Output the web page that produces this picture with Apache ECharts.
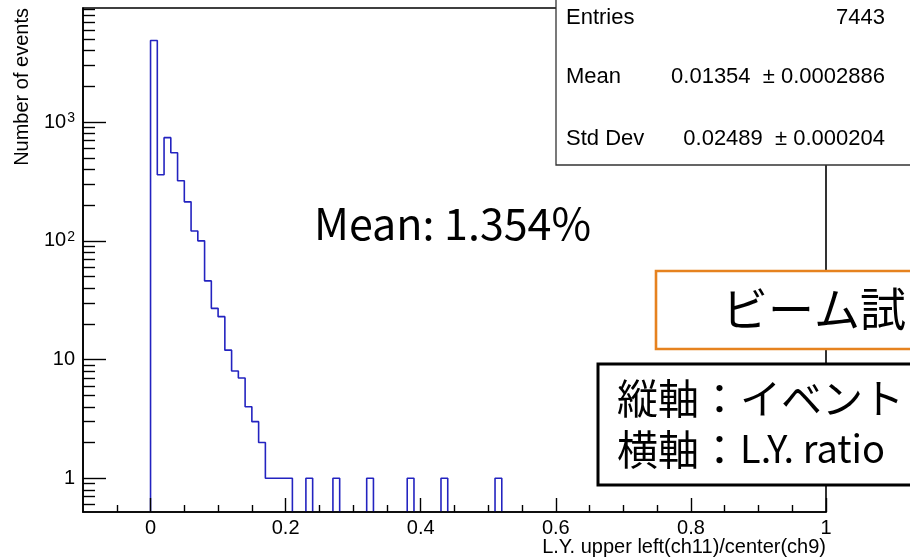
<!DOCTYPE html>
<html>
<head>
<meta charset="utf-8">
<script src="https://cdn.jsdelivr.net/npm/echarts@6/dist/echarts.min.js"></script>
<style>
  html, body { margin: 0; padding: 0; background: #fff; }
  #main { width: 910px; height: 557px; }
</style>
</head>
<body>
<div id="main"></div>
<script>
// L.Y. ratio histogram: upper left (ch11) / center (ch9), 0.01 wide bins, log scale counts
const binWidth = 0.01;
const binLow = [0.00, 0.01, 0.02, 0.03, 0.04, 0.05, 0.06, 0.07, 0.08, 0.09,
                0.10, 0.11, 0.12, 0.13, 0.14, 0.15, 0.16, 0.17, 0.18, 0.19,
                0.20, 0.23, 0.27, 0.32, 0.38, 0.43, 0.51];
const binCount = [4875, 360, 740, 553, 321, 213, 121, 100, 46, 27,
                  23, 12, 8, 7, 4, 3, 2, 1, 1, 1,
                  1, 1, 1, 1, 1, 1, 1];

// axis ranges and tick positions
const xRange = [-0.1, 1.0];
const yRange = [0.52, 9150];
const xMajorTicks = [0, 0.2, 0.4, 0.6, 0.8, 1];
const xMinorTicks = [-0.05, 0.05, 0.1, 0.15, 0.25, 0.3, 0.35, 0.45, 0.5, 0.55,
                     0.65, 0.7, 0.75, 0.85, 0.9, 0.95];
const yMajorTicks = [1, 10, 100, 1000];
const yMinorTicks = [0.6, 0.7, 0.8, 0.9, 2, 3, 4, 5, 6, 7, 8, 9,
                     20, 30, 40, 50, 60, 70, 80, 90,
                     200, 300, 400, 500, 600, 700, 800, 900,
                     2000, 3000, 4000, 5000, 6000, 7000, 8000, 9000];

// texts
const xTitle = 'L.Y. upper left(ch11)/center(ch9)';
const yTitle = 'Number of events';
const statsRows = [
  ['Entries', '7443'],
  ['Mean', '0.01354  ± 0.0002886'],
  ['Std Dev', '0.02489  ± 0.000204']
];
const meanNote = 'Mean: 1.354%';
const beamNote = 'ビーム試';
const axisNote = [['縦軸：', 'イベント', false], ['横軸：', 'L.Y. ratio', true]];

const ROOT_FONT = '"Liberation Sans", Arial, sans-serif';
const SLIDE_FONT = '"Noto Sans CJK JP", "Noto Sans", sans-serif';
const LINE_BLUE = '#2323c0';

// Split the bins into contiguous runs; each run becomes one step outline
function buildRuns() {
  const runs = [];
  let cur = null;
  let prevHi = null;
  for (let i = 0; i < binLow.length; i++) {
    const lo = binLow[i];
    const hi = lo + binWidth;
    const c = binCount[i];
    if (cur === null || Math.abs(lo - prevHi) > 1e-9) {
      if (cur) { cur.push([prevHi, yRange[0]]); runs.push(cur); }
      cur = [[lo, yRange[0]]];
    }
    cur.push([lo, c]);
    cur.push([hi, c]);
    prevHi = hi;
  }
  if (cur) { cur.push([prevHi, yRange[0]]); runs.push(cur); }
  return runs;
}

const runs = buildRuns();
const series = runs.map(pts => ({
  type: 'line',
  data: pts,
  xAxisIndex: 0,
  yAxisIndex: 0,
  symbol: 'none',
  silent: true,
  animation: false,
  lineStyle: { color: LINE_BLUE, width: 1.6 },
  z: 2
}));

const tickStyle = { color: '#000', width: 1.4 };

function yLabel(v) {
  if (Math.abs(v - 1) < 1e-9) return '1';
  if (Math.abs(v - 10) < 1e-9) return '10';
  return '10{sup|' + Math.round(Math.log10(v)) + '}';
}

const chart = echarts.init(document.getElementById('main'), null, { renderer: 'canvas' });

const graphics = [];
// y axis title, reading bottom to top, ending at the top of the frame
graphics.push({
  type: 'text', x: 22, y: 8, rotation: Math.PI / 2, z: 50,
  style: { text: yTitle, font: '20px ' + ROOT_FONT, fill: '#000',
           textAlign: 'right', textVerticalAlign: 'middle' }
});
// x axis title, right aligned with the frame
graphics.push({
  type: 'text', x: 826, y: 547, z: 50,
  style: { text: xTitle, font: '20px ' + ROOT_FONT, fill: '#000',
           textAlign: 'right', textVerticalAlign: 'middle' }
});

// statistics box
graphics.push({
  type: 'rect', z: 60,
  shape: { x: 556, y: -3, width: 380, height: 168 },
  style: { fill: '#fff', stroke: '#333', lineWidth: 1.3 }
});
const statY = [17.5, 76.5, 139];
statsRows.forEach((row, i) => {
  graphics.push({
    type: 'text', x: 566, y: statY[i], z: 61,
    style: { text: row[0], font: '22px ' + ROOT_FONT, fill: '#000',
             textAlign: 'left', textVerticalAlign: 'middle' }
  });
  graphics.push({
    type: 'text', x: 885, y: statY[i], z: 61,
    style: { text: row[1], font: '22px ' + ROOT_FONT, fill: '#000',
             textAlign: 'right', textVerticalAlign: 'middle' }
  });
});

// slide annotations
graphics.push({
  type: 'text', x: 314, y: 224, z: 50,
  style: { text: meanNote, font: '43px ' + SLIDE_FONT, fill: '#000',
           textAlign: 'left', textVerticalAlign: 'middle' }
});
graphics.push({
  type: 'rect', z: 60,
  shape: { x: 656, y: 271, width: 320, height: 78 },
  style: { fill: '#fff', stroke: '#e6821f', lineWidth: 2.6 }
});
graphics.push({
  type: 'text', x: 722, y: 309, z: 61,
  style: { text: beamNote, font: '46px ' + SLIDE_FONT, fill: '#000',
           textAlign: 'left', textVerticalAlign: 'middle' }
});
graphics.push({
  type: 'rect', z: 60,
  shape: { x: 598, y: 364, width: 360, height: 121 },
  style: { fill: '#fff', stroke: '#000', lineWidth: 3 }
});
axisNote.forEach((t, i) => {
  graphics.push({
    type: 'text', x: 617, y: 398 + i * 51, z: 61,
    style: {
      text: '{cjk|' + t[0] + '}' + (t[2] ? '{lat|' + t[1] + '}' : '{cjk|' + t[1] + '}'),
      fill: '#000', textAlign: 'left', textVerticalAlign: 'middle',
      rich: {
        cjk: { fontFamily: SLIDE_FONT, fontSize: 41, fill: '#000', color: '#000' },
        lat: { fontFamily: SLIDE_FONT, fontSize: 38, fill: '#000', color: '#000' }
      }
    }
  });
});

chart.setOption({
  animation: false,
  backgroundColor: '#fff',
  grid: {
    left: 83, right: 84, top: 8, bottom: 45,
    show: true, borderColor: '#000', borderWidth: 1.6, backgroundColor: 'transparent'
  },
  xAxis: [
    {
      type: 'value', min: xRange[0], max: xRange[1], position: 'bottom', z: 10,
      axisLine: { show: true, onZero: false, lineStyle: { color: '#000', width: 1.6 } },
      axisTick: { show: true, inside: true, length: 14, lineStyle: tickStyle, customValues: xMajorTicks },
      axisLabel: { show: true, customValues: xMajorTicks, margin: 6, color: '#000',
                   fontFamily: ROOT_FONT, fontSize: 20 },
      splitLine: { show: false }
    },
    {
      type: 'value', min: xRange[0], max: xRange[1], position: 'bottom', z: 10,
      axisLine: { show: false, onZero: false },
      axisTick: { show: true, inside: true, length: 7, lineStyle: tickStyle, customValues: xMinorTicks },
      axisLabel: { show: false },
      splitLine: { show: false }
    }
  ],
  yAxis: [
    {
      type: 'log', logBase: 10, min: yRange[0], max: yRange[1], position: 'left', z: 10,
      axisLine: { show: true, onZero: false, lineStyle: { color: '#000', width: 1.6 } },
      axisTick: { show: true, inside: true, length: 23, lineStyle: tickStyle, customValues: yMajorTicks },
      axisLabel: {
        show: true, customValues: yMajorTicks, margin: 8, color: '#000',
        fontFamily: ROOT_FONT, fontSize: 20, formatter: yLabel,
        rich: { sup: { fontFamily: ROOT_FONT, fontSize: 14, color: '#000', padding: [0, 0, 8, 1] } }
      },
      splitLine: { show: false }
    },
    {
      type: 'log', logBase: 10, min: yRange[0], max: yRange[1], position: 'left', z: 10,
      axisLine: { show: false, onZero: false },
      axisTick: { show: true, inside: true, length: 12, lineStyle: tickStyle, customValues: yMinorTicks },
      axisLabel: { show: false },
      splitLine: { show: false }
    }
  ],
  series: series,
  graphic: { elements: graphics }
});
</script>
</body>
</html>
